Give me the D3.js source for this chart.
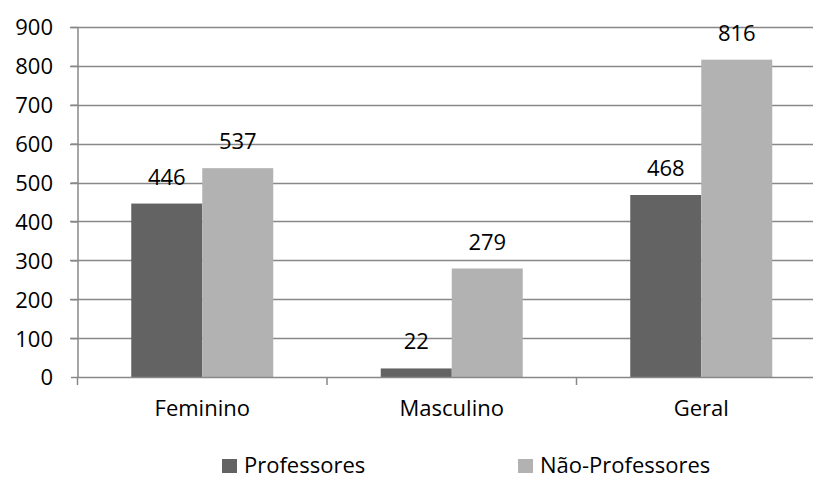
<!DOCTYPE html>
<html><head><meta charset="utf-8">
<script src="https://cdn.jsdelivr.net/npm/d3@7"></script>
<style>body{margin:0;background:#fff}svg{display:block}text{font-family:"Open Sans",sans-serif;fill:#000}</style>
</head><body>
<svg id="c" width="813" height="479"></svg>
<script>
const categories = ["Feminino", "Masculino", "Geral"];
const seriesNames = ["Professores", "Não-Professores"];
const professores = [446, 22, 468];
const naoProfessores = [537, 279, 816];
const yTicks = [0, 100, 200, 300, 400, 500, 600, 700, 800, 900];
const colors = ["#636363", "#b2b2b2"];

const FONT = "'Open Sans',sans-serif";
const svg = d3.select("#c");
const fs = 22;
const x = d3.scaleBand().domain(categories).range([77.5, 826]).paddingInner(0).paddingOuter(0);
const y = d3.scaleLinear().domain([0, 900]).range([377, 27]);
const inner = d3.scaleBand().domain(seriesNames).range([0, 142]);
const off = (x.bandwidth() - 142) / 2;

// gridlines
svg.append("g").selectAll("line").data(yTicks.filter(d => d > 0)).join("line")
  .attr("x1", 70).attr("x2", 826).attr("y1", d => Math.round(y(d)) + 0.5).attr("y2", d => Math.round(y(d)) + 0.5)
  .attr("stroke", "#888").attr("stroke-width", 1.5);

const data = categories.map((c, i) => ({c, vals: [professores[i], naoProfessores[i]]}));
const g = svg.append("g");
data.forEach(d => {
  d.vals.forEach((v, j) => {
    const bx = x(d.c) + off + inner(seriesNames[j]);
    g.append("rect").attr("x", bx).attr("width", inner.bandwidth())
      .attr("y", y(v)).attr("height", y(0) - y(v)).attr("fill", colors[j]);
    g.append("text").attr("x", bx + inner.bandwidth() / 2).attr("y", y(v) - 19)
      .attr("text-anchor", "middle").attr("font-size", fs).text(v);
  });
});

// y axis
const ya = d3.axisLeft(y).tickValues(yTicks).tickSize(7).tickPadding(18);
const yg = svg.append("g").attr("transform", "translate(78,0)").call(ya);
yg.select(".domain").attr("stroke", "#888").attr("stroke-width", 1.5).attr("d", "M0,377V27");
yg.selectAll(".tick line").attr("stroke", "#888").attr("stroke-width", 1.5);
yg.selectAll(".tick text").attr("font-size", fs).attr("font-family", FONT).attr("fill", "#000").attr("dy", "0.36em");

// x axis
const xa = d3.axisBottom(x).tickSize(0).tickPadding(23);
const xg = svg.append("g").attr("transform", "translate(0,377)").call(xa);
xg.select(".domain").attr("stroke", "#888").attr("stroke-width", 1.5);
xg.selectAll(".tick text").attr("font-size", fs).attr("font-family", FONT).attr("fill", "#000");
// category boundary ticks
svg.append("g").selectAll("line").data(categories).join("line")
  .attr("x1", d => x(d)).attr("x2", d => x(d)).attr("y1", 377).attr("y2", 385)
  .attr("stroke", "#888").attr("stroke-width", 1.5);

// legend
const legX = [222, 518];
const lg = svg.append("g");
seriesNames.forEach((s, j) => {
  lg.append("rect").attr("x", legX[j]).attr("y", 459).attr("width", 15).attr("height", 14).attr("fill", colors[j]);
  lg.append("text").attr("x", legX[j] + 22).attr("y", 473).attr("font-size", fs).text(s);
});
</script>
</body></html>
